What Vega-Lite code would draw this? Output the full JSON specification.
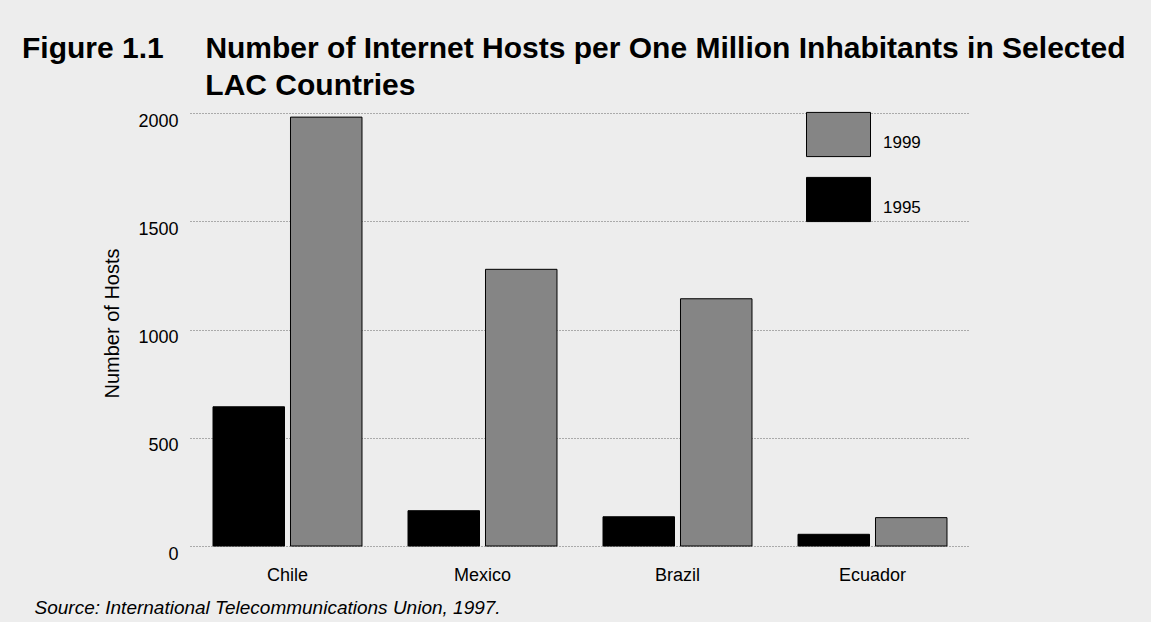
{
  "$schema": "https://vega.github.io/schema/vega-lite/v6.json",
  "width": 780,
  "height": 433,
  "autosize": {"type": "none"},
  "padding": {"left": 190, "top": 113, "right": 181, "bottom": 76},
  "background": "#ededed",
  "config": {
    "font": "Liberation Sans",
    "view": {"stroke": null},
    "axis": {"labelColor": "#000000", "titleColor": "#000000"},
    "legend": {"labelColor": "#000000"}
  },
  "title": {
    "text": [
      "Figure 1.1\u00a0\u00a0\u00a0\u00a0\u00a0Number of Internet Hosts per One Million Inhabitants in Selected",
      "\u200b\u00a0\u00a0\u00a0\u00a0\u00a0\u00a0\u00a0\u00a0\u00a0\u00a0\u00a0\u00a0\u00a0\u00a0\u00a0\u00a0\u00a0\u00a0\u00a0\u00a0\u00a0\u00a0LAC Countries"
    ],
    "anchor": "start",
    "frame": "group",
    "dx": -168,
    "dy": 41,
    "offset": 18,
    "baseline": "alphabetic",
    "lineHeight": 37,
    "fontSize": 30,
    "fontWeight": "bold",
    "color": "#000000"
  },
  "data": {
    "values": [
      {"country": "Chile", "year": "1995", "hosts": 643},
      {"country": "Chile", "year": "1999", "hosts": 1981},
      {"country": "Mexico", "year": "1995", "hosts": 163},
      {"country": "Mexico", "year": "1999", "hosts": 1278},
      {"country": "Brazil", "year": "1995", "hosts": 135},
      {"country": "Brazil", "year": "1999", "hosts": 1142},
      {"country": "Ecuador", "year": "1995", "hosts": 54},
      {"country": "Ecuador", "year": "1999", "hosts": 131}
    ]
  },
  "mark": {"type": "bar", "stroke": "#000000", "strokeWidth": 1},
  "encoding": {
    "x": {
      "field": "country",
      "type": "nominal",
      "sort": null,
      "scale": {"paddingInner": 0.236, "paddingOuter": 0.118},
      "axis": {
        "labelAngle": 0,
        "labelFontSize": 18,
        "labelPadding": 20,
        "ticks": false,
        "domain": false,
        "title": "Source: International Telecommunications Union, 1997.",
        "titleFontSize": 19,
        "titleFontStyle": "italic",
        "titleFontWeight": "normal",
        "titleAnchor": "start",
        "titleAlign": "left",
        "titleBaseline": "alphabetic",
        "titleX": -156,
        "titleY": 67
      }
    },
    "xOffset": {
      "field": "year",
      "type": "nominal",
      "sort": ["1995", "1999"],
      "scale": {"paddingInner": 0.0774, "paddingOuter": 0}
    },
    "y": {
      "field": "hosts",
      "type": "quantitative",
      "scale": {"domain": [0, 2000], "nice": false},
      "axis": {
        "values": [0, 500, 1000, 1500, 2000],
        "format": "d",
        "grid": true,
        "gridDash": [1, 2],
        "gridColor": "#666666",
        "gridWidth": 1,
        "gridOpacity": 1,
        "domain": false,
        "ticks": false,
        "labelPadding": 12,
        "labelOffset": 8,
        "labelFontSize": 18,
        "title": "Number of Hosts",
        "titleFontSize": 20,
        "titleFontWeight": "normal",
        "titleAngle": -90,
        "titleAlign": "center",
        "titleBaseline": "middle",
        "titleX": -78,
        "titleY": 210
      }
    },
    "color": {
      "field": "year",
      "type": "nominal",
      "scale": {"domain": ["1999", "1995"], "range": ["#858585", "#000000"]},
      "legend": {
        "title": null,
        "orient": "none",
        "legendX": 616,
        "legendY": -11,
        "padding": 0,
        "rowPadding": 8,
        "symbolType": "M-1,-0.69H1V0.69H-1Z",
        "symbolSize": 4096,
        "symbolStrokeColor": "#000000",
        "symbolStrokeWidth": 1,
        "symbolOpacity": 1,
        "labelFontSize": 17,
        "labelOffset": 12,
        "labelBaseline": "top"
      }
    }
  }
}
